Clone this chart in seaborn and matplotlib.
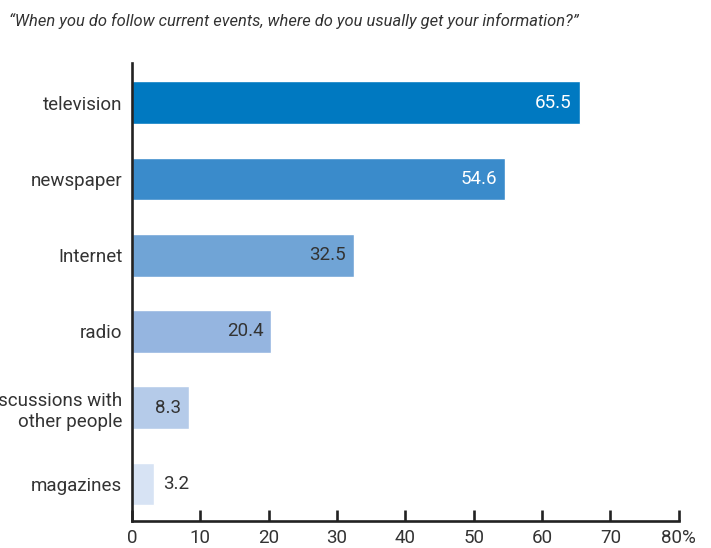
import matplotlib
matplotlib.use("Agg")
import matplotlib.pyplot as plt
import seaborn as sns
import pandas as pd

sources = ["television", "newspaper", "Internet", "radio",
           "discussions with\nother people", "magazines"]
shares = [65.5, 54.6, 32.5, 20.4, 8.3, 3.2]
bar_colors = ["#0079C1", "#3A8BCB", "#70A4D6", "#95B5E0", "#B5CBE9", "#D7E3F4"]
label_colors = ["white", "white", "#333333", "#333333", "#333333", "#333333"]
x_ticks = [0, 10, 20, 30, 40, 50, 60, 70, 80]
x_tick_labels = ["0", "10", "20", "30", "40", "50", "60", "70", "80%"]
title = "\u201cWhen you do follow current events, where do you usually get your information?\u201d"

sns.set_theme(style="white")
plt.rcParams["font.family"] = ["Roboto", "DejaVu Sans"]

df = pd.DataFrame({"source": sources, "share": shares})

fig = plt.figure(figsize=(7.11, 5.48), dpi=100)
ax = fig.add_axes([0.1857, 0.050, 0.769, 0.835])

sns.barplot(data=df, x="share", y="source", hue="source", palette=bar_colors,
            legend=False, width=0.56, saturation=1, ax=ax, zorder=1)

for i, (v, c) in enumerate(zip(shares, label_colors)):
    if v > 6:
        ax.text(v - 1.2, i, f"{v}", ha="right", va="center", color=c,
                fontsize=13.5)
    else:
        ax.text(v + 1.3, i, f"{v}", ha="left", va="center", color=c,
                fontsize=13.5)

ax.set_xlim(0, 80)
ax.set_ylim(5.48, -0.52)
ax.set_xticks(x_ticks)
ax.set_xticklabels(x_tick_labels)
ax.set_xlabel("")
ax.set_ylabel("")

for side in ["top", "right"]:
    ax.spines[side].set_visible(False)
for side in ["left", "bottom"]:
    ax.spines[side].set_color("#222222")
    ax.spines[side].set_linewidth(1.9)
    ax.spines[side].set_zorder(3)

ax.tick_params(axis="x", direction="in", length=8, width=1.9, color="#222222",
               labelsize=13.5, labelcolor="#333333", pad=6, bottom=True)
ax.tick_params(axis="y", length=0, labelsize=13.5, labelcolor="#333333", pad=7)

fig.text(0.013, 0.962, title, fontsize=11.9, style="italic", color="#333333",
         ha="left", va="center",
         family=["Liberation Sans Narrow", "Roboto", "DejaVu Sans"])

fig.savefig("out.png", dpi=100)
